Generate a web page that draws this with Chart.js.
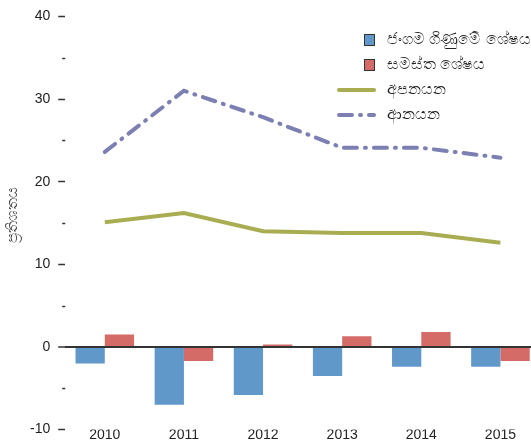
<!DOCTYPE html>
<html>
<head>
<meta charset="utf-8">
<script src="https://cdn.jsdelivr.net/npm/chart.js@4/dist/chart.umd.min.js"></script>
<style>
  html, body { margin: 0; padding: 0; background: #fff; overflow: hidden; }
  #wrap { width: 531px; height: 446px; overflow: hidden; }
  #box { width: 540px; height: 446px; }
</style>
</head>
<body>
<div id="wrap"><div id="box"><canvas id="myChart"></canvas></div></div>
<script>
// data
var years = ['2010', '2011', '2012', '2013', '2014', '2015'];
var currentAcc = [-2.0, -7.0, -5.8, -3.5, -2.4, -2.4];
var overallBal = [1.5, -1.7, 0.3, 1.3, 1.8, -1.7];
var exportsPct = [15.1, 16.2, 14.0, 13.8, 13.8, 12.6];
var importsPct = [23.6, 31.0, 27.8, 24.1, 24.1, 22.9];
var labels = ['ජංගම ගිණුමේ ශේෂය', 'සමස්ත ශේෂය', 'අපනයන', 'ආනයන'];
var yTitle = 'ප්‍රතිශතය';

var ctx = document.getElementById('myChart');
var font = "'Liberation Sans', Arial, sans-serif";

// short minor ticks at the 5s + the y title (sits a bit above centre)
var minorTicks = {
  id: 'minorTicks',
  afterDraw: function(chart) {
    var y = chart.scales.y;
    var c = chart.ctx;
    c.save();
    c.strokeStyle = '#333';
    c.lineWidth = 1.5;
    for (var v = -5; v < 40; v += 10) {
      var py = Math.round(y.getPixelForValue(v)) + 0.5;
      c.beginPath();
      c.moveTo(chart.chartArea.left - 3, py);
      c.lineTo(chart.chartArea.left, py);
      c.stroke();
    }
    c.translate(13, y.getPixelForValue(16));
    c.rotate(-Math.PI / 2);
    c.font = '15px ' + font;
    c.fillStyle = '#444';
    c.textAlign = 'center';
    c.textBaseline = 'middle';
    c.fillText(yTitle, 0, 0);
    c.restore();
  }
};

// legend in the top right corner
var cornerLegend = {
  id: 'cornerLegend',
  afterDraw: function(chart) {
    var c = chart.ctx;
    var ds = chart.data.datasets;
    c.save();
    c.font = '15.5px ' + font;
    c.textBaseline = 'middle';
    for (var i = 0; i < ds.length; i++) {
      var yy = 40 + i * 25;
      if (ds[i].type === 'line') {
        c.strokeStyle = ds[i].borderColor;
        c.lineWidth = 4;
        c.lineCap = 'round';
        c.setLineDash(ds[i].borderDash || []);
        c.beginPath();
        c.moveTo(339, yy);
        c.lineTo(374, yy);
        c.stroke();
        c.setLineDash([]);
      } else {
        c.fillStyle = ds[i].backgroundColor;
        c.fillRect(364, yy - 6, 11, 12);
        c.strokeStyle = '#333';
        c.lineWidth = 1;
        c.strokeRect(364.5, yy - 5.5, 10, 11);
      }
      c.fillStyle = '#222';
      c.fillText(ds[i].label, 387, yy);
    }
    c.restore();
  }
};

var myChart = new Chart(ctx, {
  data: {
    labels: years,
    datasets: [
      { type: 'bar', label: labels[0], data: currentAcc, backgroundColor: '#6098CA',
        barPercentage: 1, categoryPercentage: 0.74, order: 2 },
      { type: 'bar', label: labels[1], data: overallBal, backgroundColor: '#D46B66',
        barPercentage: 1, categoryPercentage: 0.74, order: 2 },
      { type: 'line', label: labels[2], data: exportsPct, borderColor: '#A8AD52',
        borderWidth: 4, pointRadius: 0, tension: 0, order: 1 },
      { type: 'line', label: labels[3], data: importsPct, borderColor: '#7B7FB2',
        borderWidth: 4, borderDash: [13, 8, 1, 8], borderCapStyle: 'round',
        pointRadius: 0, tension: 0, order: 1 }
    ]
  },
  options: {
    responsive: true,
    maintainAspectRatio: false,
    animation: false,
    layout: { padding: { top: 11, right: 0, left: 22, bottom: 0 } },
    plugins: { legend: { display: false }, tooltip: { enabled: false } },
    scales: {
      x: {
        grid: { display: false, drawTicks: false },
        border: { display: false },
        ticks: { color: '#222', font: { size: 14, family: font }, padding: -3 }
      },
      y: {
        min: -10,
        max: 40,
        border: { display: false },
        grid: {
          drawOnChartArea: true,
          color: function(c) { return c.tick && c.tick.value === 0 ? '#333' : 'rgba(0,0,0,0)'; },
          lineWidth: function(c) { return c.tick && c.tick.value === 0 ? 2 : 1; },
          tickColor: '#333',
          tickLength: 7,
          tickWidth: 1.5
        },
        ticks: { stepSize: 10, color: '#222', font: { size: 14, family: font }, padding: 8 }
      }
    }
  },
  plugins: [minorTicks, cornerLegend]
});
</script>
</body>
</html>
